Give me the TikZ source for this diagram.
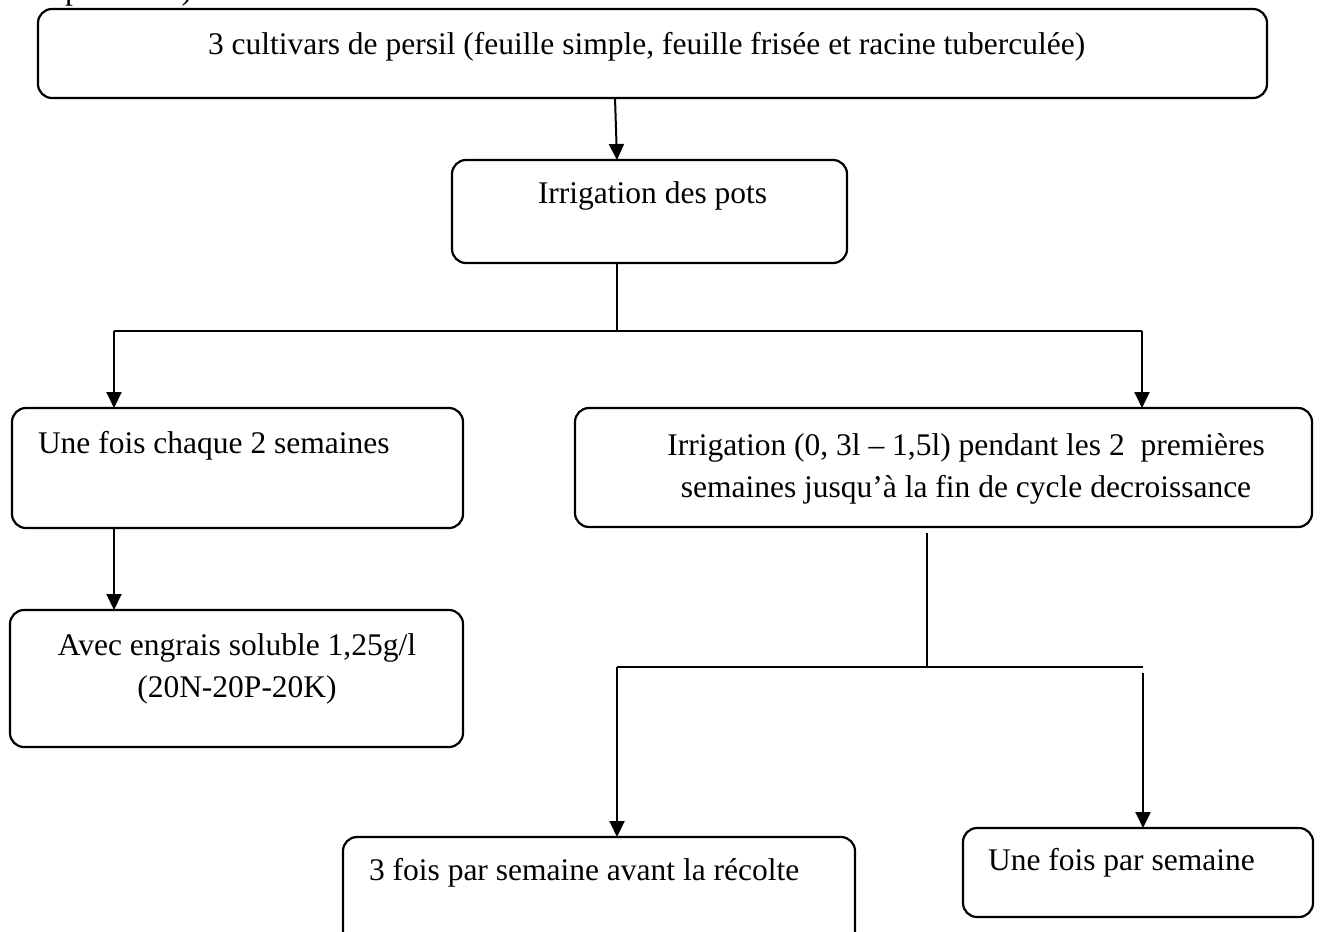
\documentclass[tikz,border=0pt]{standalone}
\usepackage{fontspec}
\setmainfont{Liberation Serif}
\usetikzlibrary{arrows.meta,calc,fit}
\begin{document}
\begin{tikzpicture}[x=0.5pt,y=-0.5pt,
  box/.style={draw, line width=1.1pt, rounded corners=7pt, inner sep=0pt, outer sep=0pt},
  txt/.style={inner sep=0pt, outer sep=0pt, font=\fontsize{15.75pt}{19pt}\selectfont},
  conn/.style={line width=1pt},
  arr/.style={conn, -{Triangle[length=8pt,width=7.5pt]}}]
\useasboundingbox (0,0) rectangle (1320,931);
\begin{scope}
\clip (0,0) rectangle (1320,931);
\node[txt, anchor=base east] (t0) at (192,-0.5) {es pour cela)};
% boxes
\node[box, fit={(38,9) (1267,98)}] (b1) {};
\node[box, fit={(452,160) (847,263)}] (b2) {};
\node[box, fit={(12,408) (463,528)}] (b3) {};
\node[box, fit={(575,408) (1312,527)}] (b4) {};
\node[box, fit={(10,610) (463,747)}] (b5) {};
\node[box, fit={(343,837) (855,960)}] (b6) {};
\node[box, fit={(963,828) (1313,917)}] (b7) {};
% texts
\node[txt, anchor=base west] (t1) at (208,55) {3 cultivars de persil (feuille simple, feuille frisée et racine tuberculée)};
\node[txt, anchor=base west] (t2) at (538,203) {Irrigation des pots};
\node[txt, anchor=base west] (t3) at (38,453) {Une fois chaque 2 semaines};
\node[txt, anchor=base] (t4a) at (966,455) {Irrigation (0, 3l – 1,5l) pendant les 2\ \ premières};
\node[txt, anchor=base] (t4b) at (966,497) {semaines jusqu’à la fin de cycle decroissance};
\node[txt, anchor=base] (t5a) at (237,655) {Avec engrais soluble 1,25g/l};
\node[txt, anchor=base] (t5b) at (237,697) {(20N-20P-20K)};
\node[txt, anchor=base west] (t6) at (369,880) {3 fois par semaine avant la récolte};
\node[txt, anchor=base west] (t7) at (988,870) {Une fois par semaine};
% junction coordinates
\coordinate (j1) at (617,331);
\coordinate (j1L) at (114,331);
\coordinate (j1R) at (1142,331);
\coordinate (j2) at (927,667);
\coordinate (j2L) at (617,667);
\coordinate (j2R) at (1143,667);
% connectors
\draw[arr] ($(b1.south)+(-37.5,0)$) -- ($(b2.north)+(-32.5,0)$);
\draw[conn] (j1 |- b2.south) -- (j1);
\draw[conn] (j1L) -- (j1R);
\draw[arr] (j1L) -- (j1L |- b3.north);
\draw[arr] (j1R) -- (j1R |- b4.north);
\draw[arr] (j1L |- b3.south) -- (j1L |- b5.north);
\draw[conn] ($(j2 |- b4.south)+(0,6)$) -- (j2);
\draw[conn] (j2L) -- (j2R);
\draw[arr] (j2L) -- (j2L |- b6.north);
\draw[arr] ($(j2R)+(0,6)$) -- (j2R |- b7.north);
\end{scope}
\end{tikzpicture}
\end{document}
